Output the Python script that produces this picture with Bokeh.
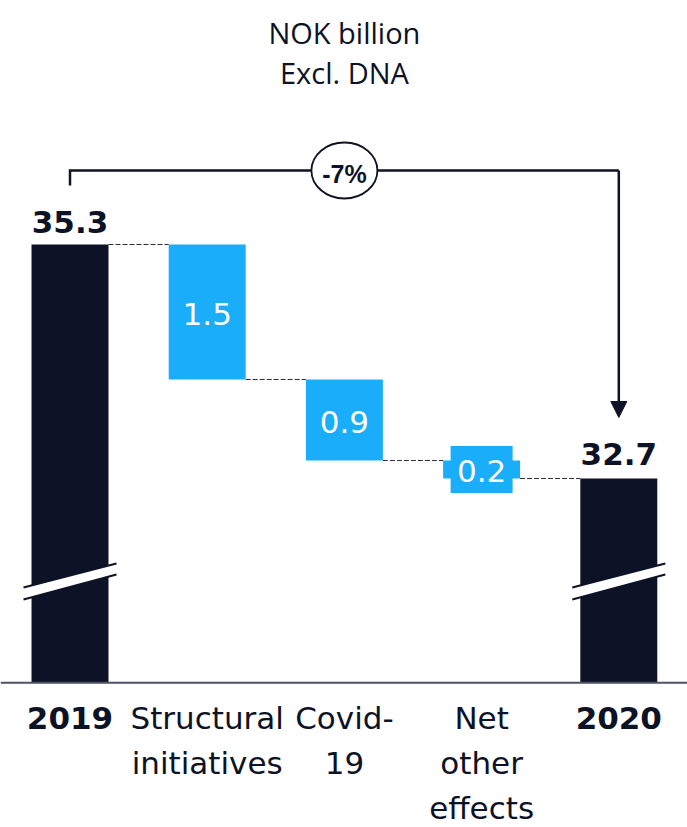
from bokeh.plotting import figure
from bokeh.models import Range1d, Arrow, NormalHead, Span
from bokeh.core.properties import value
from bokeh.embed import file_html
from bokeh.resources import INLINE

# ---------------- data ----------------
categories = ["2019", "Structural\ninitiatives", "Covid-\n19", "Net\nother\neffects", "2020"]
start_value = 35.3
end_value = 32.7
deltas = [-1.5, -0.9, -0.2]
change_label = "-7%"
title_lines = ["NOK billion", "Excl. DNA"]
axis_floor = 30.43          # value at which the (broken) bars are cut

# ---------------- style ----------------
DARK = "#0d1226"
BLUE = "#1aadf9"
LABEL_FONT = value("DejaVu Sans")
BAR_W = 0.561
PX_Y = 1 / 90.0             # one pixel in value units
PX_X = 1 / 137.2            # one pixel in category units


def pos(px):
    """value at a given pixel offset below the 35.3 level (layout helper)"""
    return start_value - (px - 244) * PX_Y


p = figure(width=687, height=827,
           x_range=Range1d(-0.5066, 4.5007),
           y_range=Range1d(28.8222, 38.0111),
           output_backend="svg", toolbar_location=None,
           x_axis_location=None, y_axis_location=None, min_border=0)
p.grid.visible = False
p.outline_line_color = None
p.background_fill_color = "white"

n = len(categories)
xs = list(range(n))

# running levels
levels = [start_value]
for d in deltas:
    levels.append(round(levels[-1] + d, 4))

# total bars
p.vbar(x=[0, n - 1], top=[start_value, end_value], bottom=axis_floor,
       width=BAR_W, fill_color=DARK, line_color=None)

# delta bars
dx = xs[1:-1]
d_top = levels[:-1]
d_bot = levels[1:]
p.vbar(x=dx, top=d_top, bottom=d_bot, width=BAR_W, fill_color=BLUE, line_color=None)

# label background boxes for small deltas
for x, t, b in zip(dx, d_top, d_bot):
    if abs(t - b) / PX_Y < 40:
        p.rect(x=[x], y=[(t + b) / 2], width=62, height=47,
               width_units="screen", height_units="screen",
               fill_color=BLUE, line_color=None)

# dashed connectors
x0 = [x + BAR_W / 2 for x in xs[:-1]]
x1 = [x - BAR_W / 2 for x in xs[1:]]
p.segment(x0=x0, y0=levels, x1=x1, y1=levels, line_color="#2a2d3a",
          line_width=1, line_dash="5 2")

# axis break marks on total bars
for x in [0, n - 1]:
    l = x - 46.5 * PX_X
    r = x + 46.5 * PX_X
    top_l, top_r = pos(587), pos(563)
    bot_l, bot_r = pos(599), pos(574)
    p.patch([l, r, r, l], [top_l, top_r, bot_r, bot_l], fill_color="white", line_color=None)
    p.line([l, r], [top_l, top_r], line_color=DARK, line_width=2)
    p.line([l, r], [bot_l, bot_r], line_color=DARK, line_width=2)

# baseline
p.add_layout(Span(location=axis_floor, dimension="width", line_color="#4d5264", line_width=2))

# total value labels
p.text(x=[0, n - 1], y=[start_value + 22 * PX_Y, end_value + 24 * PX_Y],
       text=[f"{start_value:.1f}", f"{end_value:.1f}"],
       text_font=LABEL_FONT, text_font_style="bold", text_font_size="31px",
       text_color=DARK, text_align="center", text_baseline="middle")

# delta value labels
p.text(x=dx, y=[(t + b) / 2 - 2 * PX_Y for t, b in zip(d_top, d_bot)],
       text=[f"{abs(d):.1f}" for d in deltas],
       text_font=LABEL_FONT, text_font_size="31px",
       text_color="white", text_align="center", text_baseline="middle")

# category labels (one glyph row per text line)
for i, cat in enumerate(categories):
    bold = i in (0, n - 1)
    for j, line in enumerate(cat.split("\n")):
        p.text(x=[i], y=[pos(717.5 + j * 45)], text=[line],
               text_font=LABEL_FONT, text_font_size="31px",
               text_font_style="bold" if bold else "normal",
               text_color=DARK, text_align="center", text_baseline="middle")

# title
for j, t in enumerate(title_lines):
    p.text(x=[(n - 1) / 2], y=[pos(32 + j * 40)], text=[t],
           text_font=value("Open Sans"), text_font_size="29px",
           text_color=DARK, text_align="center", text_baseline="middle")

# change bracket with arrow
bracket_y = pos(170)
p.line([0, 0, n - 1], [pos(185), bracket_y, bracket_y],
       line_color=DARK, line_width=2.5, line_join="miter")
p.add_layout(Arrow(end=NormalHead(size=16, fill_color=DARK, line_color=DARK, line_width=1),
                   x_start=n - 1, y_start=bracket_y,
                   x_end=n - 1, y_end=pos(417),
                   line_color=DARK, line_width=2.5))
p.ellipse(x=[(n - 1) / 2], y=[bracket_y], width=66, height=56,
          width_units="screen", height_units="screen",
          fill_color="white", line_color=DARK, line_width=1.8)
p.text(x=[(n - 1) / 2], y=[pos(174)], text=[change_label],
       text_font=value("Liberation Sans"), text_font_style="bold",
       text_font_size="25px", text_color=DARK,
       text_align="center", text_baseline="middle")

open("out.html", "w").write(file_html(p, INLINE))
